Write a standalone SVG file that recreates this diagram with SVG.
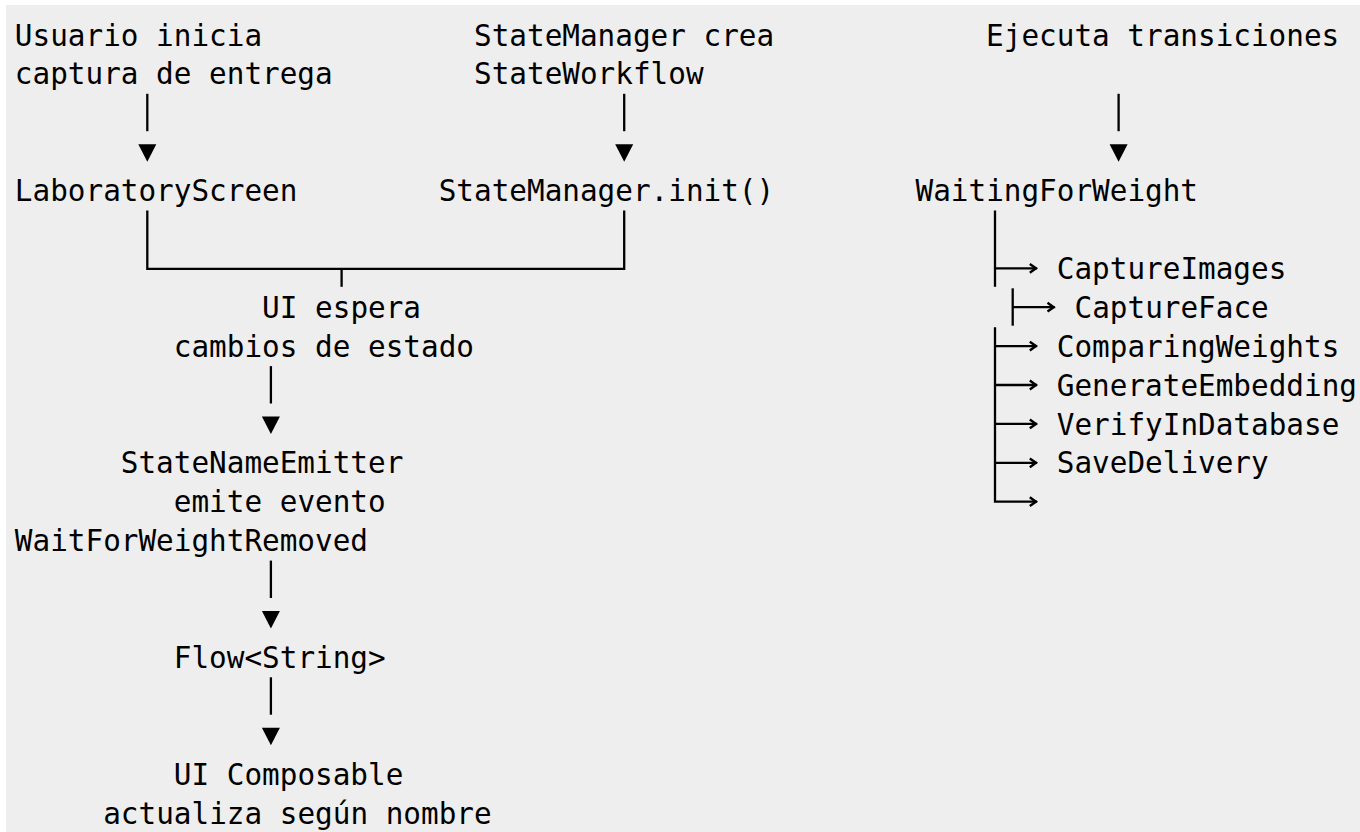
<svg xmlns="http://www.w3.org/2000/svg" width="1360" height="832" viewBox="0 0 1360 832">
  <style>
    .t { font-family: "DejaVu Sans Mono", "Liberation Mono", monospace; font-size: 29.33px; fill: #000; white-space: pre; }
    .c { stroke: #000; stroke-width: 2.3; fill: none; stroke-linecap: butt; }
    .h { fill: #000; stroke: none; }
  </style>
  <defs>
    <marker id="chev" viewBox="0 0 12 12" refX="9.6" refY="6" markerWidth="12" markerHeight="12" markerUnits="userSpaceOnUse" orient="auto">
      <path d="M2.4,1.6 L8.6,6 L2.4,10.4" fill="none" stroke="#000" stroke-width="2.4" stroke-linejoin="miter"/>
    </marker>
  </defs>
  <rect x="0" y="0" width="1360" height="832" fill="#ffffff"/>
  <rect x="6" y="5" width="1354" height="827" fill="#eeeeee"/>

  <g id="n-usuario"><text class="t" x="14.85" y="45.5">Usuario inicia</text><text class="t" x="14.85" y="84.4">captura de entrega</text></g>
  <g id="n-statemanager-crea"><text class="t" x="474" y="45.5">StateManager crea</text><text class="t" x="474" y="84.4">StateWorkflow</text></g>
  <g id="n-ejecuta"><text class="t" x="986.1" y="45.5">Ejecuta transiciones</text></g>
  <g id="n-laboratory"><text class="t" x="14.85" y="201.1">LaboratoryScreen</text></g>
  <g id="n-init"><text class="t" x="438.7" y="201.1">StateManager.init()</text></g>
  <g id="n-waiting"><text class="t" x="915.5" y="201.1">WaitingForWeight</text></g>
  <g id="n-uiespera"><text class="t" x="262.1" y="317.8">UI espera</text><text class="t" x="173.8" y="356.7">cambios de estado</text></g>
  <g id="n-captureimages"><text class="t" x="1056.8" y="278.9">CaptureImages</text></g>
  <g id="n-captureface"><text class="t" x="1074.5" y="317.8">CaptureFace</text></g>
  <g id="n-comparing"><text class="t" x="1056.8" y="356.7">ComparingWeights</text></g>
  <g id="n-generate"><text class="t" x="1056.8" y="395.6">GenerateEmbedding</text></g>
  <g id="n-verify"><text class="t" x="1056.8" y="434.5">VerifyInDatabase</text></g>
  <g id="n-save"><text class="t" x="1056.8" y="473.4">SaveDelivery</text></g>
  <g id="n-emitter"><text class="t" x="120.8" y="473.4">StateNameEmitter</text><text class="t" x="173.8" y="512.3">emite evento</text><text class="t" x="14.85" y="551.2">WaitForWeightRemoved</text></g>
  <g id="n-flow"><text class="t" x="173.8" y="667.9">Flow&lt;String&gt;</text></g>
  <g id="n-composable"><text class="t" x="173.8" y="784.6">UI Composable</text><text class="t" x="103.2" y="823.5">actualiza según nombre</text></g>

  <g id="connectors">
    <!-- top arrows -->
    <line class="c" x1="147.3" y1="93.8" x2="147.3" y2="131.2"/>
    <polygon class="h" points="138.3,144.2 156.3,144.2 147.3,161.7"/>
    <line class="c" x1="624.2" y1="93.8" x2="624.2" y2="131.2"/>
    <polygon class="h" points="615.2,144.2 633.2,144.2 624.2,161.7"/>
    <line class="c" x1="1118.6" y1="93.8" x2="1118.6" y2="131.2"/>
    <polygon class="h" points="1109.6,144.2 1127.6,144.2 1118.6,161.7"/>
    <!-- join -->
    <path class="c" d="M147.3,210.5 V268.9 H624.2 V210.5"/>
    <line class="c" x1="341.6" y1="268.9" x2="341.6" y2="286.8"/>
    <!-- left chain -->
    <line class="c" x1="270.9" y1="366.1" x2="270.9" y2="403.5"/>
    <polygon class="h" points="261.9,416.6 279.9,416.6 270.9,434"/>
    <line class="c" x1="270.9" y1="560.6" x2="270.9" y2="598"/>
    <polygon class="h" points="261.9,611.1 279.9,611.1 270.9,628.5"/>
    <line class="c" x1="270.9" y1="677.3" x2="270.9" y2="714.7"/>
    <polygon class="h" points="261.9,727.8 279.9,727.8 270.9,745.2"/>
    <!-- right tree -->
    <line class="c" x1="995" y1="210.5" x2="995" y2="286.8"/>
    <line class="c" x1="995" y1="268.3" x2="1037" y2="268.3" marker-end="url(#chev)"/>
    <line class="c" x1="1012.7" y1="288.3" x2="1012.7" y2="325.7"/>
    <line class="c" x1="1012.7" y1="307.2" x2="1054.7" y2="307.2" marker-end="url(#chev)"/>
    <path class="c" d="M995,327.2 V501.7 H1037" marker-end="url(#chev)"/>
    <line class="c" x1="995" y1="346.1" x2="1037" y2="346.1" marker-end="url(#chev)"/>
    <line class="c" x1="995" y1="385" x2="1037" y2="385" marker-end="url(#chev)"/>
    <line class="c" x1="995" y1="423.9" x2="1037" y2="423.9" marker-end="url(#chev)"/>
    <line class="c" x1="995" y1="462.8" x2="1037" y2="462.8" marker-end="url(#chev)"/>
  </g>
</svg>
